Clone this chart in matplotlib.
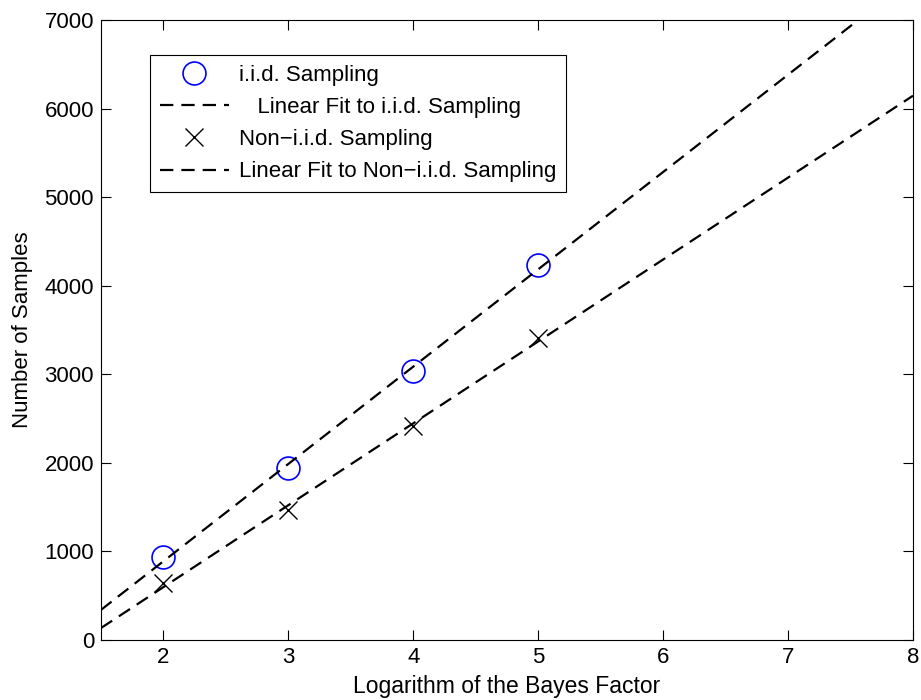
import numpy as np
import matplotlib
matplotlib.use("Agg")
import matplotlib.pyplot as plt

plt.rcParams['font.family'] = ['Liberation Sans', 'DejaVu Sans']

# values
log_bf = [2, 3, 4, 5]
iid_samples = [937, 1942, 3037, 4234]
noniid_samples = [644, 1468, 2416, 3410]

x_ticks = [2, 3, 4, 5, 6, 7, 8]
y_ticks = [0, 1000, 2000, 3000, 4000, 5000, 6000, 7000]

# linear fits to the two sets of points
iid_fit = np.polyfit(log_bf, iid_samples, 1)
noniid_fit = np.polyfit(log_bf, noniid_samples, 1)
xs = np.linspace(1.5, 8, 200)

fig = plt.figure(figsize=(9.21, 7.0), dpi=100)
ax = fig.add_axes([101 / 921, 60 / 700, 812 / 921, 620 / 700])

ax.plot(log_bf, iid_samples, 'o', mfc='none', mec='blue', ms=16.5, mew=1.2,
        label='i.i.d. Sampling')
ax.plot(xs, np.polyval(iid_fit, xs), '--', color='black', lw=1.6, dashes=(6, 3.6),
        label='   Linear Fit to i.i.d. Sampling')
ax.plot(log_bf, noniid_samples, 'x', color='black', ms=12.5, mew=1.0,
        label='Non\u2212i.i.d. Sampling')
ax.plot(xs, np.polyval(noniid_fit, xs), '--', color='black', lw=1.6, dashes=(6, 3.6),
        label='Linear Fit to Non\u2212i.i.d. Sampling')

ax.set_xlim(1.5, 8)
ax.set_ylim(0, 7000)
ax.set_xticks(x_ticks)
ax.set_yticks(y_ticks)
ax.tick_params(direction='in', top=True, right=True, labelsize=16, length=7, width=0.8, pad=5)
for s in ax.spines.values():
    s.set_linewidth(0.8)

ax.set_xlabel('Logarithm of the Bayes Factor', fontsize=16.5, labelpad=5)
ax.set_ylabel('Number of Samples', fontsize=16, labelpad=8)

leg = ax.legend(loc='upper left', bbox_to_anchor=(0.060, 0.9435), fontsize=16,
                handlelength=3.1, fancybox=False, edgecolor='black', framealpha=1,
                borderpad=0.45, labelspacing=0.5, handletextpad=0.45,
                borderaxespad=0)
leg.get_frame().set_linewidth(0.8)

fig.savefig('out.png', dpi=100)
